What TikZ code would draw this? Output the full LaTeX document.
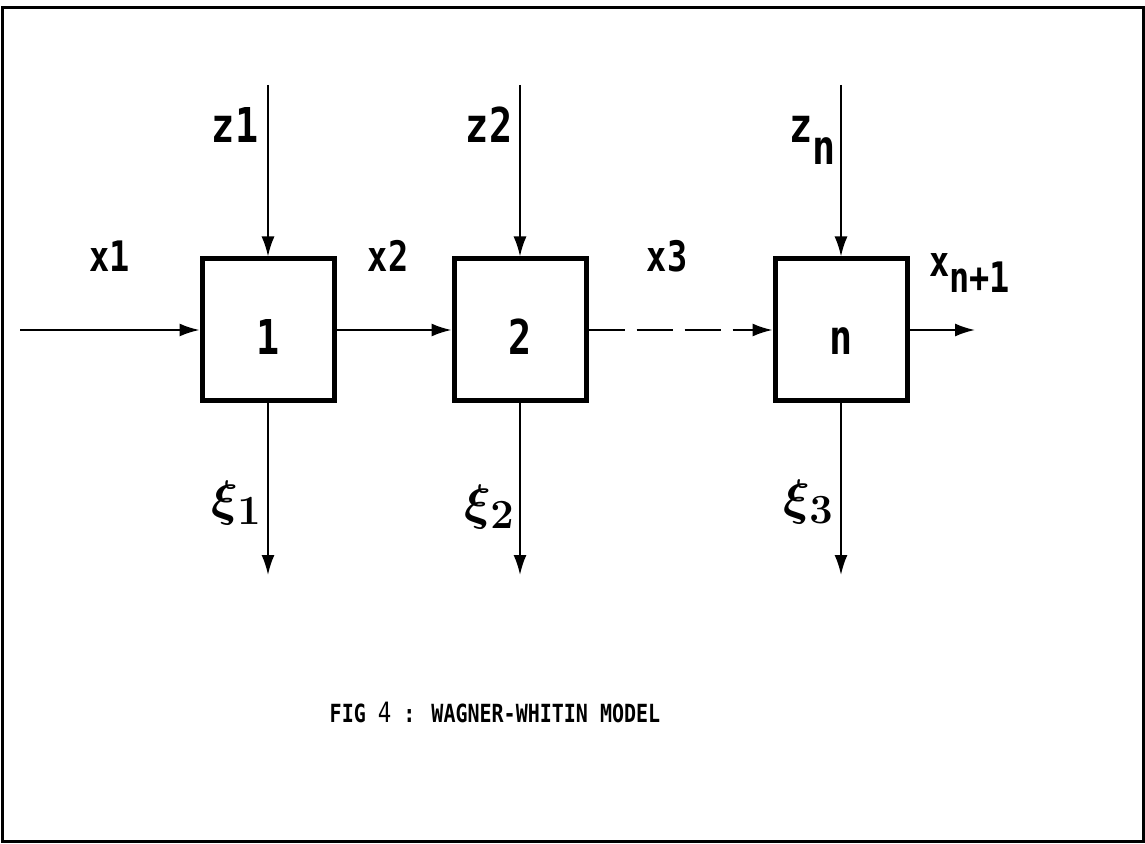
\documentclass[tikz,border=0pt]{standalone}
\usepackage{fontspec}
\newfontfamily\plotfont{DejaVu Sans Mono}[FakeStretch=0.8]
\usetikzlibrary{arrows.meta}

\begin{document}
\begin{tikzpicture}[x=0.5pt,y=-0.5pt,
    block/.style={draw,line width=2.5pt,minimum width=66pt,minimum height=71pt,
        text height=24.5pt,text depth=0pt,
        font=\plotfont\bfseries\fontsize{24}{24}\selectfont},
    flow/.style={line width=1pt,-{Latex[length=10pt,width=6.5pt]}},
    xlab/.style={anchor=base,font=\plotfont\bfseries\fontsize{21}{21}\selectfont},
    zlab/.style={anchor=base,font=\plotfont\bfseries\fontsize{24}{24}\selectfont},
    xilab/.style={anchor=east,inner sep=0pt,font=\boldmath\fontsize{30}{30}\selectfont}]
    \useasboundingbox (0,0) rectangle (1145,844);
    \draw[line width=1.5pt] (2,8) rectangle (1143,841);

    \node[block] (b1) at (268,330) {1};
    \node[block] (b2) at (520,330) {2};
    \node[block] (bn) at (841,330) {n};

    \coordinate (in)  at (20,330);
    \coordinate (out) at (975,330);

    \draw[flow] (in) -- (b1);
    \draw[flow] (b1) -- (b2);
    \draw[flow,dash pattern=on 18pt off 6pt] (b2) -- (bn);
    \draw[flow] (bn) -- (out);

    \foreach \b in {b1,b2,bn} {
        \coordinate (\b-src) at (\b.north |- 0,85);
        \coordinate (\b-snk) at (\b.south |- 0,575);
        \draw[flow] (\b-src) -- (\b.north);
        \draw[flow] (\b.south) -- (\b-snk);
    }

    \node[zlab] (lz1) at (235,143) {z1};
    \node[zlab] (lz2) at (489,143) {z2};
    \node[zlab,anchor=base west] (lzn) at (782,143) {z\raisebox{-11pt}{n}};

    \node[xlab] (lx1) at (110,272) {x1};
    \node[xlab] (lx2) at (388,272) {x2};
    \node[xlab] (lx3) at (667,272) {x3};
    \node[xlab,anchor=base west] (lxn) at (922,277) {x\raisebox{-8pt}{n+1}};

    \node[xilab] (xi1) at (262,503) {$\xi_1$};
    \node[xilab] (xi2) at (515,507) {$\xi_2$};
    \node[xilab] (xi3) at (834,502) {$\xi_3$};

    \node[font=\plotfont\bfseries\fontsize{12.5}{14}\selectfont] (cap) at (495,712)
        {FIG {\mdseries\fontsize{14}{14}\selectfont 4} : WAGNER-WHITIN MODEL};
\end{tikzpicture}
\end{document}
